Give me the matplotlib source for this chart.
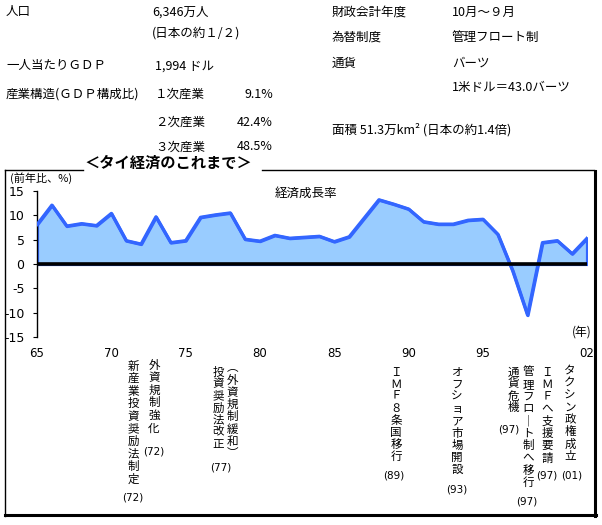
import matplotlib
matplotlib.use("Agg")
import matplotlib.pyplot as plt
from matplotlib.lines import Line2D

plt.rcParams['font.family'] = ['Noto Sans CJK JP', 'DejaVu Sans']

W, H = 602, 525

# ---- data ----
years = list(range(1965, 2003))
growth = [8.1, 12.1, 7.8, 8.3, 7.9, 10.4, 4.8, 4.1, 9.7, 4.4,
          4.8, 9.6, 10.1, 10.5, 5.1, 4.7, 5.9, 5.3, 5.5, 5.7,
          4.6, 5.6, 9.4, 13.2, 12.3, 11.3, 8.7, 8.2, 8.2, 9.0,
          9.2, 6.1, -1.4, -10.5, 4.4, 4.8, 2.1, 5.3]
xtick_years = [1965, 1970, 1975, 1980, 1985, 1990, 1995, 2002]
xtick_labels = ["65", "70", "75", "80", "85", "90", "95", "02"]
yticks = [-15, -10, -5, 0, 5, 10, 15]

events = [
    ("新産業投資奨励法制定", "(72)", 133, 366, 12.6, 497, 133),
    ("外資規制強化", "(72)", 154, 365, 12.6, 451, 154),
    ("投資奨励法改正", "(77)", 218, 372, 12.0, 467, 221),
    ("︵外資規制緩和︶", None, 232, 368, 12.2, None, None),
    ("ＩＭＦ８条国移行", "(89)", 396, 372, 12.1, 475, 394),
    ("オフショア市場開設", "(93)", 457, 372, 12.2, 489, 457),
    ("通貨危機", "(97)", 513, 372, 12.0, 429, 509),
    ("管理フロート制へ移行", "(97)", 528, 372, 12.3, 502, 527),
    ("ＩＭＦへ支援要請", "(97)", 547, 372, 12.3, 476, 547),
    ("タクシン政権成立", "(01)", 570, 370, 12.4, 476, 572),
]

fig = plt.figure(figsize=(W / 100, H / 100), dpi=100)
fig.patch.set_facecolor('white')


def P(x, y):
    return x / W, 1 - y / H


def txt(x, y, s, size=9, ha='left', **kw):
    fx, fy = P(x, y)
    fig.text(fx, fy, s, fontsize=size, ha=ha, va='center', **kw)


# ---- header info ----
txt(6, 12, "人口")
txt(152, 12, "6,346万人")
txt(152, 33, "(日本の約１/２)")
txt(6, 66, "一人当たりＧＤＰ")
txt(155, 66, "1,994 ドル")
txt(6, 94, "産業構造(ＧＤＰ構成比)")
txt(155, 94, "１次産業")
txt(273, 94, "9.1%", ha='right')
txt(155, 122, "２次産業")
txt(273, 122, "42.4%", ha='right')
txt(155, 147, "３次産業")
txt(273, 147, "48.5%", ha='right')

txt(332, 12, "財政会計年度")
txt(452, 12, "10月～９月")
txt(332, 37, "為替制度")
txt(452, 37, "管理フロート制")
txt(332, 63, "通貨")
txt(452, 63, "バーツ")
txt(452, 87, "1米ドル＝43.0バーツ")
txt(332, 130, "面積 51.3万km² (日本の約1.4倍)")

# ---- frame ----
def line(x0, y0, x1, y1, lw=1.0):
    a = P(x0, y0)
    b = P(x1, y1)
    fig.add_artist(Line2D([a[0], b[0]], [a[1], b[1]], color='black',
                          lw=lw, transform=fig.transFigure))

line(5, 170, 83, 170)
line(262, 170, 594, 170)
line(5, 170, 5, 516)
line(5, 515, 596, 515, lw=2.2)
line(595, 171, 595, 516, lw=2.2)

txt(168, 163, "＜タイ経済のこれまで＞", size=11, ha='center', fontweight='bold')

# ---- chart ----
ax = fig.add_axes([37 / W, 1 - 337 / H, 550 / W, 146 / H])
ax.set_xlim(1965, 2002)
ax.set_ylim(-15, 15)
ax.fill_between(years, growth, 0, facecolor='#99CCFF', edgecolor='#3366FF',
                linewidth=2.3, zorder=2)
ax.plot(years, growth, color='#3366FF', lw=2.3, zorder=3)
ax.axhline(0, color='black', lw=2.6, zorder=4)
for s in ['top', 'right', 'bottom']:
    ax.spines[s].set_visible(False)
ax.spines['left'].set_linewidth(1.0)
ax.set_yticks(yticks)
ax.set_yticklabels([str(v) for v in yticks], fontsize=9, family='DejaVu Sans')
ax.tick_params(axis='y', direction='out', length=3, pad=6)
ax.set_xticks(xtick_years)
ax.set_xticklabels(xtick_labels, fontsize=8.5, family='DejaVu Sans')
ax.tick_params(axis='x', length=0, pad=7)
ax.patch.set_alpha(0)

txt(10, 178, "(前年比、%)", size=8)
txt(306, 193, "経済成長率", size=9, ha='center')
txt(582, 332, "(年)", size=8.5, ha='center')

# ---- vertical event annotations ----
for label, year_s, x, y0, step, yy, yx in events:
    for i, ch in enumerate(label):
        c = "｜" if ch == "ー" else ch
        txt(x, y0 + i * step, c, size=8.3, ha='center')
    if year_s and yy is not None:
        txt(yx, yy, year_s, size=7.5, ha='center', family='DejaVu Sans')

fig.savefig("out.png", dpi=100)
